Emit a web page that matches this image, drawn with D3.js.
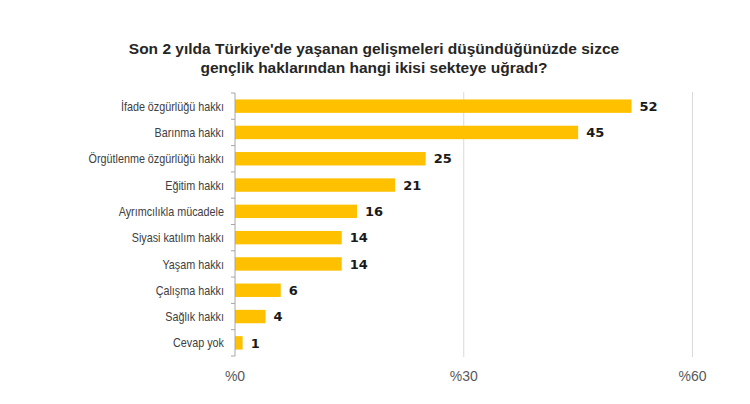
<!DOCTYPE html>
<html><head><meta charset="utf-8">
<script src="https://cdn.jsdelivr.net/npm/d3@7"></script>
<style>body{margin:0;background:#fff;} svg{display:block;}</style>
</head><body>
<svg id="c" width="750" height="404"></svg>
<script>
const categories = ["İfade özgürlüğü hakkı","Barınma hakkı","Örgütlenme özgürlüğü hakkı","Eğitim hakkı","Ayrımcılıkla mücadele","Siyasi katılım hakkı","Yaşam hakkı","Çalışma hakkı","Sağlık hakkı","Cevap yok"];
const values = [52, 45, 25, 21, 16, 14, 14, 6, 4, 1];
const xTicks = [0, 30, 60];
const titleLines = ["Son 2 yılda Türkiye'de yaşanan gelişmeleri düşündüğünüzde sizce","gençlik haklarından hangi ikisi sekteye uğradı?"];

const svg = d3.select("#c");
const x = d3.scaleLinear().domain([0, 60]).range([235, 692.5]);
const y = d3.scaleBand().domain(categories).range([93, 356]).paddingInner(0.49).paddingOuter(0.245);

// title
svg.append("g").selectAll("text").data(titleLines).join("text")
  .attr("x", 374).attr("y", (d,i) => 54 + i*19)
  .attr("text-anchor", "middle")
  .attr("font-family", "Liberation Sans, Arial, sans-serif")
  .attr("font-weight", "bold").attr("font-size", 15.5).attr("fill", "#262626")
  .text(d => d);

// gridlines
svg.append("g").selectAll("line").data(xTicks.filter(t => t > 0)).join("line")
  .attr("x1", d => x(d)).attr("x2", d => x(d)).attr("y1", 92).attr("y2", 357)
  .attr("stroke", "#d9d9d9").attr("stroke-width", 1);

// x tick labels
svg.append("g").selectAll("text").data(xTicks).join("text")
  .attr("x", d => x(d)).attr("y", 381).attr("text-anchor", "middle")
  .attr("font-family", "Liberation Sans, Arial, sans-serif").attr("font-size", 14).attr("fill", "#595959")
  .text(d => "%" + d);

// bars
svg.append("g").selectAll("rect").data(values).join("rect")
  .attr("x", x(0)).attr("y", (d,i) => y(categories[i]))
  .attr("width", d => x(d) - x(0)).attr("height", y.bandwidth())
  .attr("fill", "#ffc000");

// y axis
const yAxis = svg.append("g").attr("transform", `translate(${x(0)},0)`);
yAxis.append("line").attr("x1", 0).attr("x2", 0).attr("y1", 93).attr("y2", 356).attr("stroke", "#a6a6a6");
const bounds = d3.range(categories.length + 1).map(i => 93 + i * (356 - 93) / categories.length);
yAxis.selectAll("line.t").data(bounds).join("line").attr("class","t")
  .attr("x1", -4).attr("x2", 0).attr("y1", d => d).attr("y2", d => d).attr("stroke", "#a6a6a6");

// category labels (condensed look)
svg.append("g").selectAll("text").data(categories).join("text")
  .attr("transform", d => `translate(224,${y(d) + y.bandwidth()/2}) scale(0.83,1)`)
  .attr("dy", "0.35em")
  .attr("text-anchor", "end")
  .attr("font-family", "Liberation Sans, Arial, sans-serif").attr("font-size", 13).attr("fill", "#404040")
  .text(d => d);

// value labels
svg.append("g").selectAll("text").data(values).join("text")
  .attr("x", d => x(d) + 8).attr("y", (d,i) => y(categories[i]) + y.bandwidth()/2).attr("dy", "0.36em")
  .attr("font-family", "DejaVu Sans, sans-serif").attr("font-weight", "bold").attr("font-size", 13).attr("fill", "#1a1a1a")
  .text(d => d);
</script>
</body></html>
